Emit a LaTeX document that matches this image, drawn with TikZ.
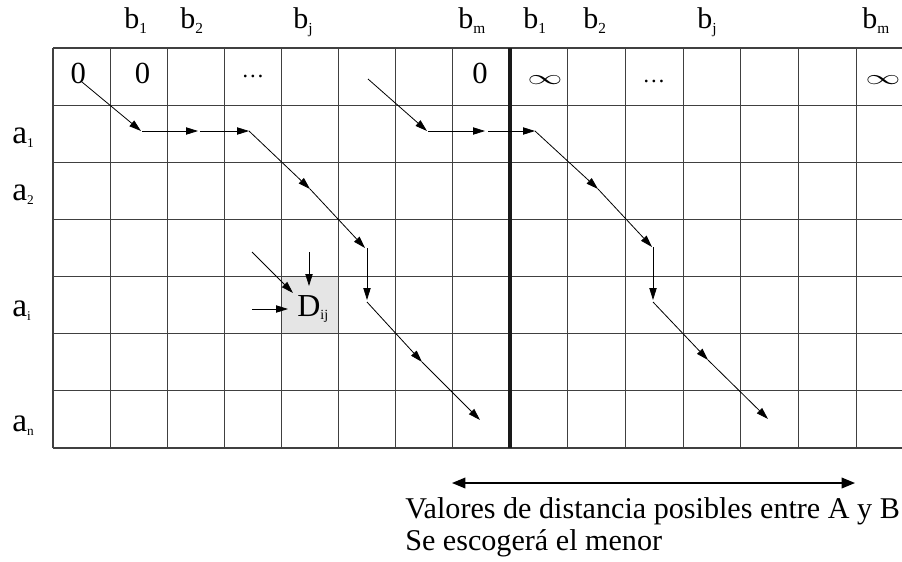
\documentclass[tikz,border=0pt]{standalone}
\usepackage{fontspec}
\setmainfont{Liberation Serif}
\usetikzlibrary{arrows.meta}
\newcommand\lowsub[3]{\raisebox{-#1}{\fontsize{#2}{#2}\selectfont #3}}
\begin{document}
\begin{tikzpicture}[x=0.75pt,y=-0.75pt,
  gridline/.style={draw=black!75,line width=0.9pt},
  arr/.style={-{Triangle[length=9pt,width=5.5pt]},line width=0.6pt},
  dbl/.style={{Triangle[length=10pt,width=8pt]}-{Triangle[length=10pt,width=8pt]},line width=1pt},
  lab/.style={inner sep=0pt,anchor=base west},
  hb/.style={lab,font=\fontsize{22.5pt}{23pt}\selectfont},
  ha/.style={lab,font=\fontsize{25pt}{26pt}\selectfont},
  zero/.style={lab,font=\fontsize{23pt}{24pt}\selectfont},
  dots/.style={inner sep=0pt,anchor=base,font=\fontsize{17pt}{18pt}\selectfont},
  inf/.style={inner sep=0pt,anchor=center,font=\fontsize{24pt}{24pt}\selectfont},
  note/.style={lab,font=\fontsize{22.6pt}{24pt}\selectfont}]
\useasboundingbox (0,0) rectangle (902,561);
% shaded cell
\fill[black!10] (281.6,276.6) rectangle (338.7,333.7);
% grid
\foreach \k in {0,...,7} \draw[gridline] ({53+57.125*\k},48) -- ({53+57.125*\k},448);
\foreach \x in {567.7,625.4,683.1,740.8,798.5,856.2} \draw[gridline] (\x,48) -- (\x,448);
\foreach \k in {0,...,7} \draw[gridline] (53,{48+57.14*\k}) -- (902,{48+57.14*\k});
\draw[line width=2.6pt,black!90] (510,48) -- (510,448);
% column headers
\node[hb] (hb1) at (124,28.3) {b\lowsub{4pt}{11.5pt}{1}};
\node[hb] (hb2) at (180,28.3) {b\lowsub{4pt}{11.5pt}{2}};
\node[hb] (hbj) at (293,28.3) {b\lowsub{4pt}{11.5pt}{j}};
\node[hb] (hbm) at (458,28.3) {b\lowsub{4pt}{11.5pt}{m}};
\node[hb] (hc1) at (523,28.3) {b\lowsub{4pt}{11.5pt}{1}};
\node[hb] (hc2) at (583,28.3) {b\lowsub{4pt}{11.5pt}{2}};
\node[hb] (hcj) at (697,28.3) {b\lowsub{4pt}{11.5pt}{j}};
\node[hb] (hcm) at (862,28.3) {b\lowsub{4pt}{11.5pt}{m}};
% row headers
\node[ha] (ra1) at (12,143.3) {a\lowsub{3pt}{10pt}{1}};
\node[ha] (ra2) at (12,200) {a\lowsub{3pt}{10pt}{2}};
\node[ha] (rai) at (12,316.7) {a\lowsub{3pt}{10pt}{i}};
\node[ha] (ran) at (12,431.7) {a\lowsub{3pt}{10pt}{n}};
% first row values
\node[zero] (z1) at (70.3,83.3) {0};
\node[zero] (z2) at (134.7,83.3) {0};
\node[dots] (d1) at (253,77.3) {…};
\node[zero] (z3) at (472,83.3) {0};
\node[inf] (i1) at (545,80.5) {\scalebox{1.05}[0.62]{$\infty$}};
\node[dots] (d2) at (654,82) {…};
\node[inf] (i2) at (883,80.5) {\scalebox{1.05}[0.62]{$\infty$}};
% D_ij
\node[lab,font=\fontsize{24pt}{24pt}\selectfont] (dij) at (297,316.7) {D\lowsub{2pt}{10.5pt}{ij}};
% left path
\coordinate (l0) at (82,82);
\coordinate (l1) at (141,131);
\coordinate (l1b) at (142,131);
\coordinate (l2) at (198,131);
\coordinate (l2b) at (200,131);
\coordinate (l3) at (249,131);
\coordinate (l4) at (310,189);
\coordinate (l5) at (365,248);
\coordinate (l5b) at (367,248);
\coordinate (l6) at (367,300);
\coordinate (l6b) at (367,302);
\coordinate (l7) at (422,362);
\coordinate (l8) at (480,420);
\draw[arr] (l0) -- (l1);
\draw[arr] (l1b) -- (l2);
\draw[arr] (l2b) -- (l3);
\draw[arr] (l3) -- (l4);
\draw[arr] (l4) -- (l5);
\draw[arr] (l5b) -- (l6);
\draw[arr] (l6b) -- (l7);
\draw[arr] (l7) -- (l8);
% right path
\coordinate (r0) at (368,79);
\coordinate (r1) at (427,131);
\coordinate (r1b) at (428,131);
\coordinate (r2) at (485,131);
\coordinate (r2b) at (488,131);
\coordinate (r3) at (535,131);
\coordinate (r4) at (598,189);
\coordinate (r5) at (652,247);
\coordinate (r5b) at (653,247);
\coordinate (r6) at (653,300);
\coordinate (r6b) at (653,302);
\coordinate (r7) at (708,360);
\coordinate (r8) at (768,419);
\draw[arr] (r0) -- (r1);
\draw[arr] (r1b) -- (r2);
\draw[arr] (r2b) -- (r3);
\draw[arr] (r3) -- (r4);
\draw[arr] (r4) -- (r5);
\draw[arr] (r5b) -- (r6);
\draw[arr] (r6b) -- (r7);
\draw[arr] (r7) -- (r8);
% arrows into D_ij
\coordinate (da) at (252,252);
\coordinate (dat) at (293,293);
\coordinate (db) at (309,252);
\coordinate (dbt) at (309,286);
\coordinate (dc) at (252,309);
\coordinate (dct) at (288,309);
\draw[arr] (da) -- (dat);
\draw[arr] (db) -- (dbt);
\draw[arr] (dc) -- (dct);
% range arrow and note
\coordinate (ba) at (452,483);
\coordinate (bb) at (855,483);
\draw[dbl] (ba) -- (bb);
\node[note] (n1) at (405,518) {Valores de distancia posibles entre A y B};
\node[note] (n2) at (405,550) {Se escogerá el menor};
\end{tikzpicture}
\end{document}
